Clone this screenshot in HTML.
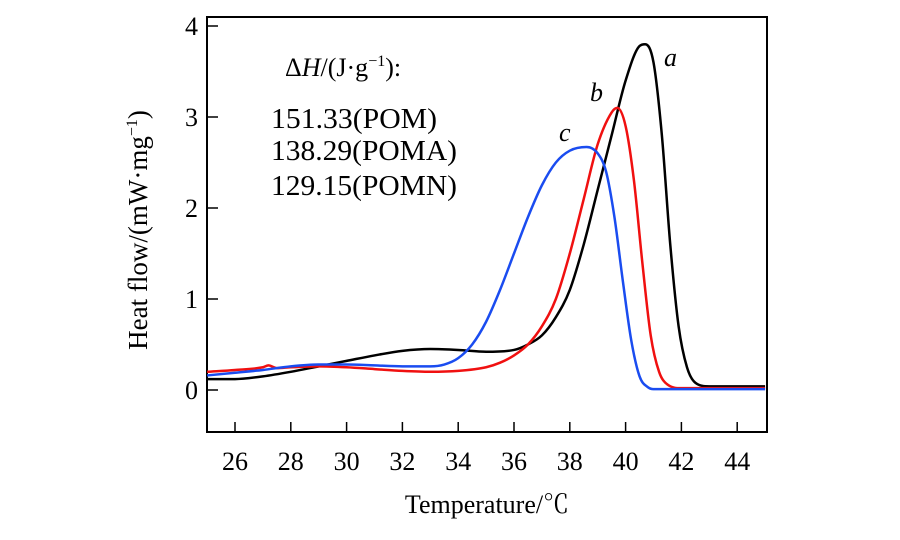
<!DOCTYPE html>
<html><head><meta charset="utf-8"><style>
body{margin:0;background:#fff}
svg text{font-family:"Liberation Serif","Noto Serif CJK SC",serif;fill:#000}
</style></head><body>
<svg width="900" height="535" viewBox="0 0 900 535">
<g id="plot"></g>
<text x="285" y="76" font-size="26">Δ<tspan font-style="italic">H</tspan>/(J·g<tspan font-size="16" dy="-10">−1</tspan><tspan dy="10">):</tspan></text>
<text x="271" y="128" font-size="28" textLength="166" lengthAdjust="spacingAndGlyphs">151.33(POM)</text>
<text x="271" y="160" font-size="28" textLength="186" lengthAdjust="spacingAndGlyphs">138.29(POMA)</text>
<text x="271" y="195" font-size="28" textLength="186" lengthAdjust="spacingAndGlyphs">129.15(POMN)</text>
<text x="664" y="66" font-size="26" font-style="italic">a</text>
<text x="590" y="101" font-size="26" font-style="italic">b</text>
<text x="559" y="141" font-size="26" font-style="italic">c</text>
<text x="487" y="513" font-size="26" text-anchor="middle">Temperature/℃</text>
<text transform="translate(147,230) rotate(-90)" font-size="27" text-anchor="middle">Heat flow/(mW·mg<tspan font-size="16" dy="-10">−1</tspan><tspan dy="10">)</tspan></text>
</svg>
<script>
const xTicks=[26,28,30,32,34,36,38,40,42,44];
const yTicks=[0,1,2,3,4];
const xA=[25,26,27,28,29,30,31,32,33,34,35,36,36.5,37,37.5,38,38.5,39,39.5,40,40.5,40.7,41,41.3,41.6,41.9,42.2,42.5,43,45];
const yA=[0.12,0.12,0.15,0.2,0.26,0.32,0.38,0.43,0.45,0.44,0.42,0.44,0.5,0.6,0.8,1.1,1.6,2.2,2.8,3.4,3.78,3.8,3.6,2.8,1.6,0.7,0.25,0.08,0.04,0.04];
const xB=[25,26,27,27.2,27.5,28,29,30,31,32,33,34,35,35.5,36,36.5,37,37.5,38,38.5,39,39.5,39.7,40,40.3,40.6,40.9,41.2,41.5,42,45];
const yB=[0.2,0.22,0.25,0.27,0.24,0.25,0.26,0.25,0.23,0.21,0.2,0.21,0.25,0.3,0.38,0.5,0.7,1.0,1.5,2.1,2.7,3.05,3.1,2.9,2.3,1.4,0.6,0.2,0.06,0.02,0.02];
const xC=[25,26,27,28,29,30,31,32,33,33.5,34,34.5,35,35.5,36,36.5,37,37.5,38,38.6,39,39.3,39.6,39.9,40.2,40.5,40.8,41,45];
const yC=[0.16,0.19,0.22,0.26,0.28,0.28,0.27,0.26,0.26,0.28,0.35,0.5,0.75,1.1,1.5,1.9,2.25,2.5,2.63,2.67,2.6,2.4,1.9,1.2,0.55,0.15,0.03,0.01,0.01];
const L=207,R=767,T=17,B=432;
const sx=v=>235+(v-26)*27.9;
const sy=v=>390-v*91;
const g=document.getElementById('plot');
const NS='http://www.w3.org/2000/svg';
function mk(t,a){const e=document.createElementNS(NS,t);for(const k in a)e.setAttribute(k,a[k]);g.appendChild(e);return e;}
const frame=mk('rect',{x:L,y:T,width:R-L,height:B-T,fill:'none',stroke:'#000','stroke-width':2});


xTicks.forEach(v=>{
 const t=mk('line',{x1:sx(v),x2:sx(v),y1:B,y2:B-10,stroke:'#000','stroke-width':1.5});
 
 
 const l=mk('text',{x:sx(v),y:470,'font-size':26,'text-anchor':'middle'});l.textContent=v;
 
 
});
yTicks.forEach(v=>{
 const t=mk('line',{x1:L,x2:L+11,y1:sy(v),y2:sy(v),stroke:'#000','stroke-width':1.5});
 
 
 const l=mk('text',{x:198,y:sy(v)+9,'font-size':26,'text-anchor':'end'});l.textContent=v;
 
 
});
function curve(xs,ys,c,n){
 const px=xs.map(sx),py=ys.map(sy),N=px.length;
 const d=[],m=new Array(N);
 for(let i=0;i<N-1;i++)d.push((py[i+1]-py[i])/(px[i+1]-px[i]));
 m[0]=d[0];m[N-1]=d[N-2];
 for(let i=1;i<N-1;i++)m[i]=(d[i-1]*d[i]<=0)?0:(d[i-1]+d[i])/2;
 for(let i=0;i<N-1;i++){
  if(d[i]===0){m[i]=0;m[i+1]=0;continue;}
  const a=m[i]/d[i],b=m[i+1]/d[i],s=a*a+b*b;
  if(s>9){const t=3/Math.sqrt(s);m[i]=t*a*d[i];m[i+1]=t*b*d[i];}
 }
 let p='M'+px[0]+','+py[0];
 for(let i=0;i<N-1;i++){
  const h=(px[i+1]-px[i])/3;
  p+=' C'+(px[i]+h)+','+(py[i]+m[i]*h)+' '+(px[i+1]-h)+','+(py[i+1]-m[i+1]*h)+' '+px[i+1]+','+py[i+1];
 }
 const e=mk('path',{d:p,fill:'none',stroke:c,'stroke-width':2.5});
 
 
}
curve(xA,yA,'#000','curve-a-pom');
curve(xB,yB,'#f01010','curve-b-poma');
curve(xC,yC,'#1a4cf0','curve-c-pomn');
</script>
</body></html>
